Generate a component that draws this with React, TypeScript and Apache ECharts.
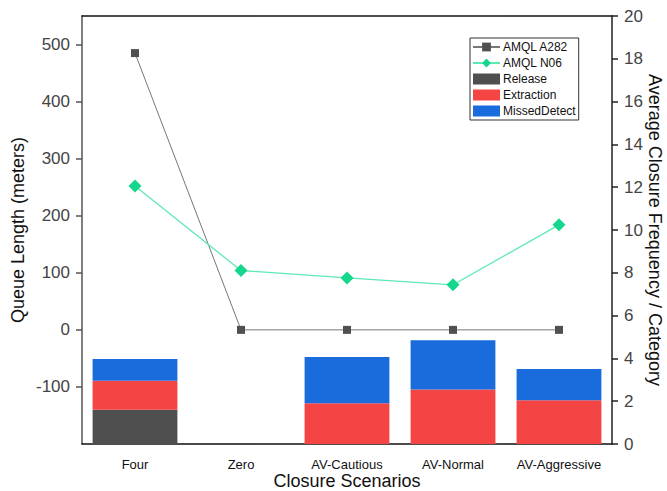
import React, { useEffect, useRef } from "react";
import * as echarts from "echarts";

const categories = ["Four", "Zero", "AV-Cautious", "AV-Normal", "AV-Aggressive"];
const amqlA282 = [485, 0, 0, 0, 0];
const amqlN06 = [252, 104, 91, 79, 184];
const release = [1.6, 0, 0, 0, 0];
const extraction = [1.35, 0, 1.9, 2.55, 2.05];
const missedDetect = [1.02, 0, 2.17, 2.3, 1.45];

const FONT = "Liberation Sans, Arial, sans-serif";

export default function App() {
  const ref = useRef<HTMLDivElement>(null);
  useEffect(() => {
    if (!ref.current) return;
    document.documentElement.style.overflow = "hidden";
    document.body.style.margin = "0";
    document.body.style.overflow = "hidden";
    const chart = echarts.init(ref.current, undefined, { renderer: "svg", width: 667, height: 491 });
    chart.setOption({
      animation: false,
      textStyle: { fontFamily: FONT },
      grid: { left: 82, right: 55, top: 16, bottom: 47, containLabel: false, outerBoundsMode: "none" },
      legend: {
        orient: "vertical",
        left: 470,
        top: 38,
        padding: [3, 3, 3, 2],
        itemGap: 4,
        itemWidth: 27,
        itemHeight: 11,
        borderColor: "#333",
        borderWidth: 1,
        textStyle: { fontSize: 12, color: "#111", fontFamily: FONT, padding: [0, 0, 0, -2] },
        data: [
          { name: "AMQL A282" },
          { name: "AMQL N06" },
          { name: "Release", icon: "rect" },
          { name: "Extraction", icon: "rect" },
          { name: "MissedDetect", icon: "rect" },
        ],
      },
      xAxis: [
        {
          type: "category",
          data: categories,
          position: "bottom",
          axisLine: { onZero: false, lineStyle: { color: "#111", width: 1.5 } },
          axisTick: { alignWithLabel: true, length: 6, lineStyle: { color: "#111", width: 1.5 } },
          axisLabel: { interval: 0, fontSize: 13, color: "#111", margin: 14, fontFamily: FONT },
          name: "Closure Scenarios",
          nameLocation: "middle",
          nameGap: 28,
          nameMoveOverlap: false,
          nameTextStyle: { fontSize: 18, color: "#111", fontFamily: FONT, lineHeight: 18 },
        },
        {
          type: "category",
          data: categories,
          position: "top",
          axisLine: { onZero: false, lineStyle: { color: "#111", width: 1.5 } },
          axisTick: { alignWithLabel: true, inside: true, length: 7, lineStyle: { color: "#111", width: 1.5 } },
          axisLabel: { show: false },
        },
      ],
      yAxis: [
        {
          type: "value",
          min: -200,
          max: 550,
          interval: 100,
          position: "left",
          splitLine: { show: false },
          axisLine: { show: true, onZero: false, lineStyle: { color: "#555", width: 1.5 } },
          axisTick: { show: true, length: 6, lineStyle: { color: "#555", width: 1.5 } },
          axisLabel: { fontSize: 17, color: "#444", margin: 12, showMinLabel: false, showMaxLabel: false, fontFamily: FONT },
          name: "Queue Length (meters)",
          nameLocation: "middle",
          nameRotate: 90,
          nameGap: 55,
          nameMoveOverlap: false,
          nameTextStyle: { fontSize: 18, color: "#111", fontFamily: FONT, lineHeight: 18 },
        },
        {
          type: "value",
          min: 0,
          max: 20,
          interval: 2,
          position: "right",
          splitLine: { show: false },
          axisLine: { show: true, onZero: false, lineStyle: { color: "#222", width: 1.5 } },
          axisTick: { show: true, length: 6, lineStyle: { color: "#222", width: 1.5 } },
          axisLabel: { fontSize: 17, color: "#444", margin: 12, fontFamily: FONT },
          name: "Average Closure Frequency / Category",
          nameLocation: "middle",
          nameRotate: -90,
          nameGap: 34,
          nameMoveOverlap: false,
          nameTextStyle: { fontSize: 18, color: "#111", fontFamily: FONT, lineHeight: 18 },
        },
      ],
      series: [
        {
          name: "Release",
          type: "bar",
          stack: "freq",
          yAxisIndex: 1,
          barCategoryGap: "20%",
          data: release,
          itemStyle: { color: "#4f4f4f" },
          z: 1,
        },
        {
          name: "Extraction",
          type: "bar",
          stack: "freq",
          yAxisIndex: 1,
          barCategoryGap: "20%",
          data: extraction,
          itemStyle: { color: "#f44444" },
          z: 1,
        },
        {
          name: "MissedDetect",
          type: "bar",
          stack: "freq",
          yAxisIndex: 1,
          barCategoryGap: "20%",
          data: missedDetect,
          itemStyle: { color: "#1a6bdc" },
          z: 1,
        },
        {
          name: "AMQL A282",
          type: "line",
          yAxisIndex: 0,
          data: amqlA282,
          symbol: "rect",
          symbolSize: 8,
          lineStyle: { color: "#777", width: 1 },
          itemStyle: { color: "#505050" },
          z: 5,
        },
        {
          name: "AMQL N06",
          type: "line",
          yAxisIndex: 0,
          data: amqlN06,
          symbol: "diamond",
          symbolSize: 13,
          lineStyle: { color: "#5ee8b4", width: 1.3 },
          itemStyle: { color: "#14d68c" },
          z: 6,
        },
      ],
    });
    return () => chart.dispose();
  }, []);
  return <div ref={ref} style={{ width: 667, height: 491, position: "absolute", left: 0, top: 0 }} />;
}
